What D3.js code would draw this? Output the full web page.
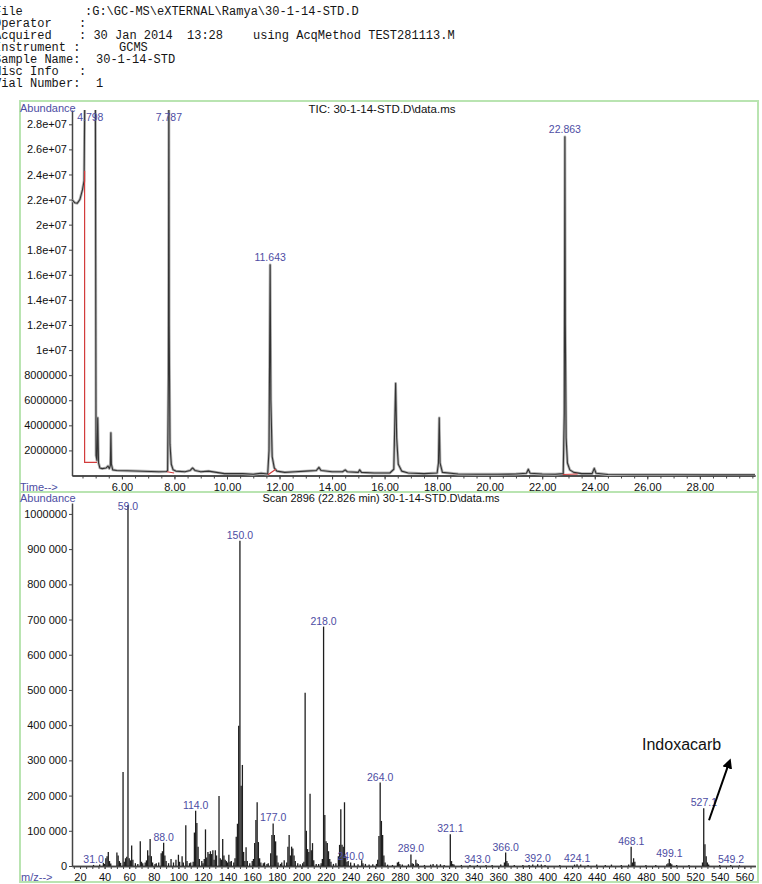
<!DOCTYPE html>
<html>
<head>
<meta charset="utf-8">
<script src="https://cdn.jsdelivr.net/npm/d3@7"></script>
<style>
  body { margin: 0; background: #fff; }
  svg { display: block; font-family: "Liberation Sans", Arial, sans-serif; }
</style>
</head>
<body>
<svg id="chart" width="762" height="884"></svg>
<script>
// header block (text segments: x offset, string)
const headerRows = [
    [[-6, 'File'], [85, ':G:\\GC-MS\\eXTERNAL\\Ramya\\30-1-14-STD.D']],
    [[-6, 'Operator'], [79, ':']],
    [[-6, 'Acquired'], [79, ': 30 Jan 2014'], [187, '13:28'], [253, 'using AcqMethod TEST281113.M']],
    [[-6, 'Instrument :'], [119, 'GCMS']],
    [[-6, 'Sample Name:'], [96, '30-1-14-STD']],
    [[-6, 'Misc Info'], [79, ':']],
    [[-6, 'Vial Number:'], [96, '1']]
];

// TIC trace (minutes, abundance)
const ticTime = [4.10, 4.20, 4.30, 4.40, 4.50, 4.56, 4.59, 4.70, 4.80, 4.90, 4.99, 5.015, 5.05, 5.08, 5.11, 5.16, 5.25, 5.40,
    5.47, 5.52, 5.56, 5.58, 5.60, 5.65, 5.80, 6.20, 6.80, 7.40, 7.70, 7.74, 7.77, 7.787, 7.80, 7.83, 7.88, 7.95, 8.05,
    8.40, 8.60, 8.69, 8.78, 9.00, 9.30, 9.60, 9.90, 10.20, 10.60, 11.00, 11.30, 11.55, 11.60, 11.643, 11.67, 11.72,
    11.80, 11.90, 12.20, 12.60, 13.00, 13.40, 13.50, 13.58, 14.00, 14.40, 14.50, 14.58, 15.00, 15.05, 15.12, 15.60,
    16.20, 16.35, 16.42, 16.46, 16.52, 16.65, 16.90, 17.50, 18.00, 18.05, 18.08, 18.11, 18.20, 18.80, 19.50, 20.30,
    21.00, 21.40, 21.47, 21.54, 22.00, 22.50, 22.80, 22.84, 22.863, 22.88, 22.91, 22.96, 23.05, 23.20, 23.50, 23.90,
    23.98, 24.05, 24.50, 25.50, 27.00, 28.50, 30.10];
const ticAbund = [22.0e6, 21.75e6, 21.7e6, 22.0e6, 22.8e6, 23.5e6, 31e6, 31e6, 31e6, 31e6, 31e6, 1.6e6, 1.2e6, 4.6e6, 1.0e6, 0.6e6, 0.55e6, 0.6e6,
    0.75e6, 0.55e6, 0.8e6, 3.4e6, 0.9e6, 0.45e6, 0.4e6, 0.38e6, 0.34e6, 0.3e6, 0.32e6, 0.4e6, 8e6, 31e6, 12e6, 2.5e6, 0.9e6, 0.45e6, 0.35e6,
    0.3e6, 0.4e6, 0.6e6, 0.4e6, 0.3e6, 0.35e6, 0.25e6, 0.15e6, 0.15e6, 0.15e6, 0.1e6, 0.18e6, 0.12e6, 2e6, 16.8e6, 6e6, 1.5e6,
    0.6e6, 0.35e6, 0.25e6, 0.3e6, 0.35e6, 0.4e6, 0.65e6, 0.4e6, 0.3e6, 0.3e6, 0.45e6, 0.3e6, 0.25e6, 0.45e6, 0.25e6, 0.2e6,
    0.2e6, 0.5e6, 7.35e6, 3.0e6, 0.9e6, 0.35e6, 0.2e6, 0.15e6, 0.2e6, 1.0e6, 4.6e6, 1.0e6, 0.25e6, 0.12e6, 0.1e6, 0.1e6,
    0.12e6, 0.18e6, 0.5e6, 0.18e6, 0.12e6, 0.1e6, 0.15e6, 5e6, 27.0e6, 12e6, 3e6, 1.0e6, 0.45e6, 0.25e6, 0.15e6, 0.15e6,
    0.57e6, 0.18e6, 0.08e6, 0.06e6, 0.06e6, 0.05e6, 0.05e6];

// integration baselines (red)
const intBaselines = [
    [[4.58, 24.3e6], [4.58, 1.05e6], [5.05, 1.05e6]],
    [[7.72, 0.3e6], [7.99, 0.2e6]],
    [[11.56, 0.06e6], [11.86, 0.5e6]],
    [[22.78, 0.08e6], [23.35, 0.12e6]]
];

const ticPeakTimes = [4.798, 7.787, 11.643, 22.863];
const ticPeakLabels = ['4.798', '7.787', '11.643', '22.863'];

const ticYTicks = [2e6, 4e6, 6e6, 8e6, 1e7, 1.2e7, 1.4e7, 1.6e7, 1.8e7, 2e7, 2.2e7, 2.4e7, 2.6e7, 2.8e7];
const ticYLabels = ['2000000', '4000000', '6000000', '8000000', '1e+07', '1.2e+07', '1.4e+07', '1.6e+07',
    '1.8e+07', '2e+07', '2.2e+07', '2.4e+07', '2.6e+07', '2.8e+07'];
const ticXTicks = [6, 8, 10, 12, 14, 16, 18, 20, 22, 24, 26, 28];

// mass spectrum, scan 2896
const msMz = [31, 36, 39, 40, 41, 42, 43, 44, 45, 50, 51, 52, 53, 55, 56, 57, 58, 59, 60, 61, 62, 63, 65, 67, 69, 70, 71, 73, 74,
    75, 76, 77, 78, 79, 81, 82, 84, 86, 87, 88, 89, 90, 92, 94, 96, 98, 100, 101, 103, 104, 106, 107, 109, 110, 112, 113,
    114, 115, 116, 117, 119, 120, 121, 122, 123, 124, 125, 126, 127, 128, 129, 130, 131, 133, 134, 135, 136, 137, 138, 139,
    140, 141, 142, 143, 145, 146, 147, 148, 149, 150, 151, 152, 153, 154, 155, 156, 158, 160, 161, 162, 163, 164, 165, 166,
    167, 169, 170, 172, 173, 175, 176, 177, 178, 179, 180, 181, 183, 184, 186, 188, 189, 190, 191, 192, 193, 194, 195, 197,
    199, 201, 202, 203, 204, 205, 206, 207, 208, 209, 210, 212, 214, 216, 217, 218, 219, 220, 221, 222, 223, 224, 226, 228,
    230, 231, 232, 233, 234, 235, 236, 237, 238, 240, 243, 246, 249, 250, 252, 255, 258, 261, 262, 263, 264, 265, 266, 267,
    268, 270, 274, 278, 279, 280, 282, 287, 289, 290, 291, 293, 294, 295, 300, 305, 307, 310, 313, 316, 321, 322, 323, 324,
    330, 337, 343, 350, 355, 362, 365, 366, 367, 368, 373, 380, 385, 388, 392, 395, 398, 410, 422, 424, 427, 433, 440, 447,
    452, 460, 466, 468, 469, 470, 471, 480, 488, 497, 498, 499, 500, 501, 505, 515, 526, 527, 528, 529, 530, 531, 540, 549, 556];
const msAbund = [3000, 4000, 9000, 6000, 22000, 28000, 40000, 14000, 7000, 38000, 30000, 14000, 9000, 267000, 12000, 22000, 26000,
    1025000, 22000, 16000, 58000, 18000, 8000, 6000, 70000, 12000, 8000, 10000, 16000,
    45000, 30000, 77000, 28000, 10000, 6000, 8000, 10000, 36000, 42000, 66000, 30000, 14000, 8000, 20000, 10000, 18000, 32000,
    12000, 28000, 10000, 116000, 14000, 8000, 10000, 12000, 95000,
    157000, 122000, 55000, 20000, 14000, 8000, 20000, 104000, 24000, 40000, 34000, 42000, 34000, 45000, 18000, 45000, 30000,
    199000, 22000, 18000, 77000, 30000, 18000, 14000,
    10000, 32000, 12000, 14000, 10000, 22000, 83000, 120000, 398000, 924000, 228000, 287000, 40000, 14000, 53000, 14000, 8000,
    14000, 20000, 65000, 131000, 181000, 68000, 22000,
    10000, 8000, 10000, 6000, 8000, 36000, 88000, 121000, 88000, 70000, 30000, 10000, 6000, 10000, 16000, 10000, 55000, 88000,
    30000, 55000, 50000, 30000, 14000, 8000,
    5000, 8000, 12000, 492000, 100000, 48000, 40000, 205000, 45000, 65000, 16000, 6000, 6000, 8000, 20000, 680000, 145000,
    70000, 65000, 42000, 20000, 12000, 6000, 8000,
    28000, 60000, 161000, 60000, 55000, 181000, 28000, 12000, 14000, 10000, 8000, 5000, 16000, 8000, 6000, 4000, 5000, 6000,
    18000, 85000, 237000, 128000, 88000, 30000,
    10000, 4000, 3000, 10000, 12000, 6000, 4000, 5000, 33000, 8000, 6000, 18000, 8000, 6000, 3000, 4000, 6000, 5000, 5000,
    3000, 90000, 14000, 6000, 4000,
    3000, 3000, 3000, 3000, 3000, 4000, 10000, 38000, 14000, 8000, 3000, 3000, 3000, 4000, 5000, 4000, 3000, 3000, 4000, 5000,
    4000, 3000, 4000, 3000,
    4000, 3000, 4000, 55000, 10000, 22000, 12000, 3000, 3000, 5000, 8000, 20000, 8000, 5000, 3000, 3000, 10000, 164000, 62000,
    28000, 10000, 4000, 3000, 3000, 2000];

const msLabelMz = [31.0, 59.0, 88.0, 114.0, 150.0, 177.0, 218.0, 240.0, 264.0, 289.0, 321.1, 343.0, 366.0, 392.0, 424.1,
    468.1, 499.1, 527.1, 549.2];

const msYTicks = [0, 100000, 200000, 300000, 400000, 500000, 600000, 700000, 800000, 900000, 1000000];
const msYLabels = ['0', '100 000', '200 000', '300 000', '400 000', '500 000', '600 000', '700 000', '800 000', '900 000', '1000000'];
const msXTicks = [20, 40, 60, 80, 100, 120, 140, 160, 180, 200, 220, 240, 260, 280, 300, 320, 340, 360, 380, 400, 420,
    440, 460, 480, 500, 520, 540, 560];

const colors = {
    frame: '#b9e4b1',
    label: '#4d4da3',
    trace: '#333',
    halo: '#b4b4b4',
    base: '#d23c3c',
    axis: '#444'
};

const svg = d3.select('#chart');

// header
const header = svg.append('g')
    .style('font-family', '"Liberation Mono", "Courier New", monospace')
    .style('font-size', '12px')
    .attr('fill', '#151515');
headerRows.forEach((row, i) => {
    row.forEach(seg => {
        header.append('text')
            .attr('x', seg[0])
            .attr('y', 14.5 + i * 12.1)
            .attr('xml:space', 'preserve')
            .style('white-space', 'pre')
            .text(seg[1]);
    });
});

// frames
svg.append('rect').attr('x', 20).attr('y', 101).attr('width', 738).attr('height', 391)
    .attr('fill', 'none').attr('stroke', colors.frame).attr('stroke-width', 2);
svg.append('rect').attr('x', 20).attr('y', 492).attr('width', 738).attr('height', 390)
    .attr('fill', 'none').attr('stroke', colors.frame).attr('stroke-width', 2);

// ---------- TIC panel ----------
const xT = d3.scaleLinear().domain([4.1, 30.1]).range([72, 755]);
const yT = d3.scaleLinear().domain([0, 2.914e7]).range([475.5, 110]);

svg.append('defs').append('clipPath').attr('id', 'ticClip')
    .append('rect').attr('x', 72).attr('y', 110).attr('width', 684).attr('height', 366);

const styleAxis = g => {
    g.select('.domain').attr('stroke', colors.axis).attr('stroke-width', 1.5);
    g.selectAll('.tick line').attr('stroke', colors.axis);
    g.selectAll('.tick text').attr('fill', '#111').style('font-size', '11px')
        .style('font-family', '"Liberation Sans", Arial, sans-serif');
};

svg.append('g')
    .attr('transform', 'translate(72,0)')
    .call(d3.axisLeft(yT).tickValues(ticYTicks).tickFormat((d, i) => ticYLabels[i]).tickSize(3).tickPadding(2).tickSizeOuter(0))
    .call(styleAxis);

svg.append('g')
    .attr('transform', 'translate(0,475.5)')
    .call(d3.axisBottom(xT).tickValues(d3.range(4.5, 30.01, 0.5)).tickFormat('').tickSize(3).tickSizeOuter(0))
    .call(styleAxis);
svg.append('g')
    .attr('transform', 'translate(0,475.5)')
    .call(d3.axisBottom(xT).tickValues(ticXTicks).tickFormat(d3.format('.2f')).tickSize(4).tickPadding(4).tickSizeOuter(0))
    .call(styleAxis);

const ticLine = d3.line()
    .x(d => xT(d[0]))
    .y(d => yT(d[1]));

const ticPoints = ticTime.map((t, i) => [t, ticAbund[i]]);
const plotT = svg.append('g').attr('clip-path', 'url(#ticClip)');
// soft grey halo under the trace, like the scanned print
plotT.append('path')
    .datum(ticPoints)
    .attr('d', ticLine)
    .attr('fill', 'none')
    .attr('stroke', colors.halo)
    .attr('stroke-width', 2.8)
    .attr('stroke-linejoin', 'round');
plotT.append('path')
    .datum(ticPoints)
    .attr('d', ticLine)
    .attr('fill', 'none')
    .attr('stroke', colors.trace)
    .attr('stroke-width', 1.1)
    .attr('stroke-linejoin', 'round');

plotT.selectAll('path.base')
    .data(intBaselines)
    .enter().append('path')
    .attr('class', 'base')
    .attr('d', ticLine)
    .attr('fill', 'none')
    .attr('stroke', colors.base)
    .attr('stroke-width', 1.2);

svg.append('g').selectAll('text')
    .data(ticPeakTimes)
    .enter().append('text')
    .attr('x', d => xT(d))
    .attr('y', d => {
        const i = d3.minIndex(ticTime, t => Math.abs(t - d));
        return Math.max(yT(ticAbund[i]) - 4, 121);
    })
    .attr('text-anchor', 'middle')
    .attr('fill', colors.label)
    .style('font-size', '10.5px')
    .text((d, i) => ticPeakLabels[i]);

svg.append('text').attr('x', 20).attr('y', 111.5).attr('fill', colors.label).style('font-size', '11px').text('Abundance');
svg.append('text').attr('x', 382).attr('y', 113).attr('text-anchor', 'middle').attr('fill', '#111')
    .style('font-size', '11.5px').text('TIC: 30-1-14-STD.D\\data.ms');
svg.append('text').attr('x', 20).attr('y', 490.5).attr('fill', colors.label).style('font-size', '11px').text('Time-->');

// ---------- mass spectrum panel ----------
const xB = d3.scaleLinear().domain([13.5, 569]).range([72, 755.4]);
const yB = d3.scaleLinear().domain([0, 1.031e6]).range([866, 503]);

svg.append('g')
    .attr('transform', 'translate(72,0)')
    .call(d3.axisLeft(yB).tickValues(msYTicks).tickFormat((d, i) => msYLabels[i]).tickSize(3).tickPadding(2).tickSizeOuter(0))
    .call(styleAxis);

svg.append('g')
    .attr('transform', 'translate(0,866)')
    .call(d3.axisBottom(xB).tickValues(d3.range(15, 566, 5)).tickFormat('').tickSize(3).tickSizeOuter(0))
    .call(styleAxis);
svg.append('g')
    .attr('transform', 'translate(0,866)')
    .call(d3.axisBottom(xB).tickValues(msXTicks).tickFormat(d3.format('d')).tickSize(3).tickPadding(4.5).tickSizeOuter(0))
    .call(styleAxis);

svg.append('g').selectAll('line')
    .data(msMz)
    .enter().append('line')
    .attr('x1', d => xB(d))
    .attr('x2', d => xB(d))
    .attr('y1', yB(0))
    .attr('y2', (d, i) => yB(msAbund[i]))
    .attr('stroke', '#1e1e1e')
    .attr('stroke-width', 1.3);

svg.append('g').selectAll('text')
    .data(msLabelMz)
    .enter().append('text')
    .attr('x', d => xB(d))
    .attr('y', d => {
        const i = d3.minIndex(msMz, m => Math.abs(m - d));
        return Math.min(Math.max(yB(msAbund[i]) - 2, 510), 863);
    })
    .attr('text-anchor', 'middle')
    .attr('fill', colors.label)
    .style('font-size', '10.5px')
    .text(d => d.toFixed(1));

svg.append('text').attr('x', 20).attr('y', 502).attr('fill', colors.label).style('font-size', '11px').text('Abundance');
svg.append('text').attr('x', 381).attr('y', 502).attr('text-anchor', 'middle').attr('fill', '#111')
    .style('font-size', '11px').text('Scan 2896 (22.826 min) 30-1-14-STD.D\\data.ms');
svg.append('text').attr('x', 21).attr('y', 881).attr('fill', colors.label).style('font-size', '11px').text('m/z-->');

// annotation
svg.append('defs').append('marker')
    .attr('id', 'head')
    .attr('viewBox', '0 0 10 10')
    .attr('refX', 5).attr('refY', 5)
    .attr('markerWidth', 5).attr('markerHeight', 5)
    .attr('orient', 'auto')
    .append('path').attr('d', 'M0,0 L10,5 L0,10 z').attr('fill', '#000');

svg.append('line')
    .attr('x1', xB(531.3)).attr('y1', yB(130000))
    .attr('x2', xB(547.5)).attr('y2', yB(292000))
    .attr('stroke', '#000').attr('stroke-width', 2)
    .attr('marker-end', 'url(#head)');

svg.append('text')
    .attr('x', xB(509))
    .attr('y', yB(330000))
    .attr('text-anchor', 'middle')
    .attr('fill', '#111')
    .style('font-size', '16px')
    .text('Indoxacarb');
</script>
</body>
</html>
